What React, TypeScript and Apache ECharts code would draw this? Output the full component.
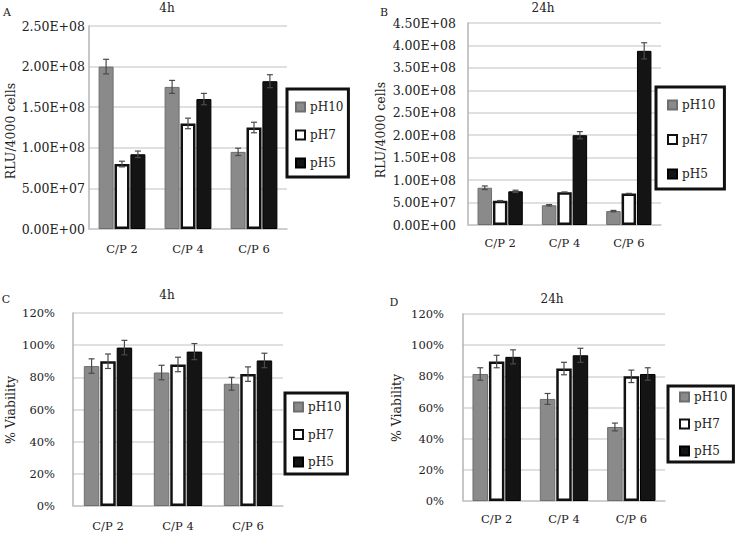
import React, { useEffect, useRef } from "react";
import * as echarts from "echarts";

// ---------- data ----------
const categories = ["C/P 2", "C/P 4", "C/P 6"];
const seriesNames = ["pH10", "pH7", "pH5"];

// Panel A: RLU/4000 cells, 4h
const rlu4hPH10 = [2.0e8, 1.75e8, 0.95e8];
const rlu4hPH7 = [0.8e8, 1.3e8, 1.25e8];
const rlu4hPH5 = [0.92e8, 1.6e8, 1.82e8];
const rlu4hErrPH10 = [0.09e8, 0.08e8, 0.045e8];
const rlu4hErrPH7 = [0.035e8, 0.065e8, 0.065e8];
const rlu4hErrPH5 = [0.04e8, 0.07e8, 0.08e8];

// Panel B: RLU/4000 cells, 24h
const rlu24hPH10 = [0.83e8, 0.44e8, 0.31e8];
const rlu24hPH7 = [0.54e8, 0.73e8, 0.7e8];
const rlu24hPH5 = [0.75e8, 2.0e8, 3.88e8];
const rlu24hErrPH10 = [0.04e8, 0.015e8, 0.015e8];
const rlu24hErrPH7 = [0.005e8, 0.005e8, 0.005e8];
const rlu24hErrPH5 = [0.025e8, 0.08e8, 0.18e8];

// Panel C: % viability, 4h
const viab4hPH10 = [87, 83, 76];
const viab4hPH7 = [90, 88, 82];
const viab4hPH5 = [98.5, 96, 90.5];
const viab4hErrPH10 = [4.5, 4.5, 4];
const viab4hErrPH7 = [4.5, 4.5, 4.5];
const viab4hErrPH5 = [4.5, 5, 4.5];

// Panel D: % viability, 24h
const viab24hPH10 = [81.5, 65.5, 47.5];
const viab24hPH7 = [89.5, 85, 80];
const viab24hPH5 = [92.5, 93.5, 81.5];
const viab24hErrPH10 = [4, 3.5, 2.5];
const viab24hErrPH7 = [4, 4, 4];
const viab24hErrPH5 = [4.5, 4.5, 4];

// tick labels
const ticksA = ["0.00E+00", "5.00E+07", "1.00E+08", "1.50E+08", "2.00E+08", "2.50E+08"];
const ticksB = ["0.00E+00", "5.00E+07", "1.00E+08", "1.50E+08", "2.00E+08", "2.50E+08", "3.00E+08", "3.50E+08", "4.00E+08", "4.50E+08"];
const ticksPct = ["0%", "20%", "40%", "60%", "80%", "100%", "120%"];

const FONT = '"DejaVu Serif", serif';
const TXT = "#222";

type Panel = {
  grid: { left: number; top: number; width: number; height: number };
  values: number[][];
  errors: number[][];
  max: number;
  interval: number;
  ticks: string[];
  tickSize: number;
  tickMargin: number;
  catMargin: number;
  barWidth: number;
  legend: { left: number; top: number; padding: number[]; itemGap: number };
};

const panels: Panel[] = [
  {
    grid: { left: 89, top: 26, width: 198, height: 203 },
    values: [rlu4hPH10, rlu4hPH7, rlu4hPH5],
    errors: [rlu4hErrPH10, rlu4hErrPH7, rlu4hErrPH5],
    max: 2.5e8,
    interval: 5e7,
    ticks: ticksA,
    tickSize: 12.5,
    tickMargin: 4,
    catMargin: 14,
    barWidth: 15,
    legend: { left: 287, top: 89, padding: [12, 5, 8, 8], itemGap: 16 },
  },
  {
    grid: { left: 468, top: 23, width: 193, height: 202 },
    values: [rlu24hPH10, rlu24hPH7, rlu24hPH5],
    errors: [rlu24hErrPH10, rlu24hErrPH7, rlu24hErrPH5],
    max: 4.5e8,
    interval: 5e7,
    ticks: ticksB,
    tickSize: 12.5,
    tickMargin: 12,
    catMargin: 12,
    barWidth: 14.5,
    legend: { left: 656, top: 87, padding: [12, 9, 9, 11], itemGap: 22.5 },
  },
  {
    grid: { left: 73, top: 313, width: 210, height: 193 },
    values: [viab4hPH10, viab4hPH7, viab4hPH5],
    errors: [viab4hErrPH10, viab4hErrPH7, viab4hErrPH5],
    max: 120,
    interval: 20,
    ticks: ticksPct,
    tickSize: 11.5,
    tickMargin: 18,
    catMargin: 14,
    barWidth: 15.5,
    legend: { left: 285, top: 393, padding: [8, 6, 6, 8], itemGap: 15.5 },
  },
  {
    grid: { left: 463, top: 314, width: 202, height: 187 },
    values: [viab24hPH10, viab24hPH7, viab24hPH5],
    errors: [viab24hErrPH10, viab24hErrPH7, viab24hErrPH5],
    max: 120,
    interval: 20,
    ticks: ticksPct,
    tickSize: 11.5,
    tickMargin: 19,
    catMargin: 12,
    barWidth: 15.5,
    legend: { left: 668, top: 386, padding: [5, 6, 5, 11], itemGap: 15 },
  },
];

const barStyles = [
  { color: "#8a8a8a", borderColor: "#6e6e6e", borderWidth: 1 },
  { color: "#ffffff", borderColor: "#111111", borderWidth: 2.5 },
  { color: "#141414", borderColor: "#000000", borderWidth: 1 },
];

const BAR_GAP = 0.06;

function buildOption() {
  const grid: any[] = [];
  const xAxis: any[] = [];
  const yAxis: any[] = [];
  const series: any[] = [];
  const legend: any[] = [];

  panels.forEach((p, pi) => {
    grid.push({ ...p.grid, containLabel: false });
    xAxis.push({
      type: "category",
      gridIndex: pi,
      data: categories,
      axisLine: { show: true, lineStyle: { color: "#c8c8c8", width: 1.5 } },
      axisTick: { show: false },
      axisLabel: { fontFamily: FONT, fontSize: 11.5, color: TXT, margin: p.catMargin },
    });
    yAxis.push({
      type: "value",
      gridIndex: pi,
      min: 0,
      max: p.max,
      interval: p.interval,
      axisLine: { show: true, lineStyle: { color: "#b5b5b5", width: 1.5 } },
      axisTick: { show: false },
      splitLine: { show: true, lineStyle: { color: "#d6d6d6", width: 1.5 } },
      axisLabel: {
        fontFamily: FONT,
        fontSize: p.tickSize,
        color: TXT,
        margin: p.tickMargin,
        formatter: (_v: number, i: number) => p.ticks[i],
      },
    });
    seriesNames.forEach((name, k) => {
      series.push({
        type: "bar",
        name,
        xAxisIndex: pi,
        yAxisIndex: pi,
        data: p.values[k],
        barWidth: p.barWidth,
        barGap: `${BAR_GAP * 100}%`,
        itemStyle: barStyles[k],
        z: 2,
      });
    });
    seriesNames.forEach((name, k) => {
      const off = (k - 1) * p.barWidth * (1 + BAR_GAP);
      series.push({
        type: "custom",
        name: name + "-err",
        xAxisIndex: pi,
        yAxisIndex: pi,
        z: 5,
        encode: { x: 0, y: 1 },
        data: p.values[k].map((v, i) => [i, v, p.errors[k][i]]),
        renderItem: (_params: any, api: any) => {
          const x = api.value(0);
          const v = api.value(1);
          const e = api.value(2);
          const top = api.coord([x, v + e]);
          const bot = api.coord([x, v - e]);
          const cx = top[0] + off;
          const cap = 3;
          const st = { stroke: "#4a4a4a", lineWidth: 1.2 };
          return {
            type: "group",
            children: [
              { type: "line", shape: { x1: cx, y1: top[1], x2: cx, y2: bot[1] }, style: st },
              { type: "line", shape: { x1: cx - cap, y1: top[1], x2: cx + cap, y2: top[1] }, style: st },
              { type: "line", shape: { x1: cx - cap, y1: bot[1], x2: cx + cap, y2: bot[1] }, style: st },
            ],
          };
        },
      });
    });
    legend.push({
      data: seriesNames,
      orient: "vertical",
      left: p.legend.left,
      top: p.legend.top,
      padding: p.legend.padding,
      itemGap: p.legend.itemGap,
      itemWidth: 9,
      itemHeight: 9,
      icon: "rect",
      backgroundColor: "#fff",
      borderColor: "#111",
      borderWidth: 3,
      selectedMode: false,
      textStyle: { fontFamily: FONT, fontSize: 12, color: TXT },
    });
  });

  const txt = (text: string, x: number, y: number, size: number, rot = 0) => ({
    type: "text",
    x,
    y,
    rotation: rot,
    style: {
      text,
      fill: TXT,
      font: `${size}px "DejaVu Serif"`,
      textAlign: "center",
      textVerticalAlign: "middle",
    },
  });

  const graphic = [
    txt("A", 7, 12, 11),
    txt("B", 384, 12, 11),
    txt("C", 6, 299, 11),
    txt("D", 394, 302, 11),
    txt("4h", 167, 8, 12),
    txt("24h", 543, 8, 12),
    txt("4h", 167, 295, 12),
    txt("24h", 552, 299, 12),
    txt("RLU/4000 cells", 10, 131, 12.5, Math.PI / 2),
    txt("RLU/4000 cells", 380, 130, 12.5, Math.PI / 2),
    txt("% Viability", 10, 410, 12.5, Math.PI / 2),
    txt("% Viability", 396, 408, 12.5, Math.PI / 2),
  ];

  return {
    animation: false,
    backgroundColor: "#ffffff",
    grid,
    xAxis,
    yAxis,
    series,
    legend,
    graphic,
  };
}

export default function App() {
  const ref = useRef<HTMLDivElement>(null);
  useEffect(() => {
    if (!ref.current) return;
    const chart = echarts.init(ref.current, undefined, { renderer: "svg" });
    chart.setOption(buildOption() as any);
    return () => chart.dispose();
  }, []);
  return (
    <div
      ref={ref}
      style={{ position: "fixed", left: 0, top: 0, width: 736, height: 534, background: "#fff" }}
    />
  );
}
